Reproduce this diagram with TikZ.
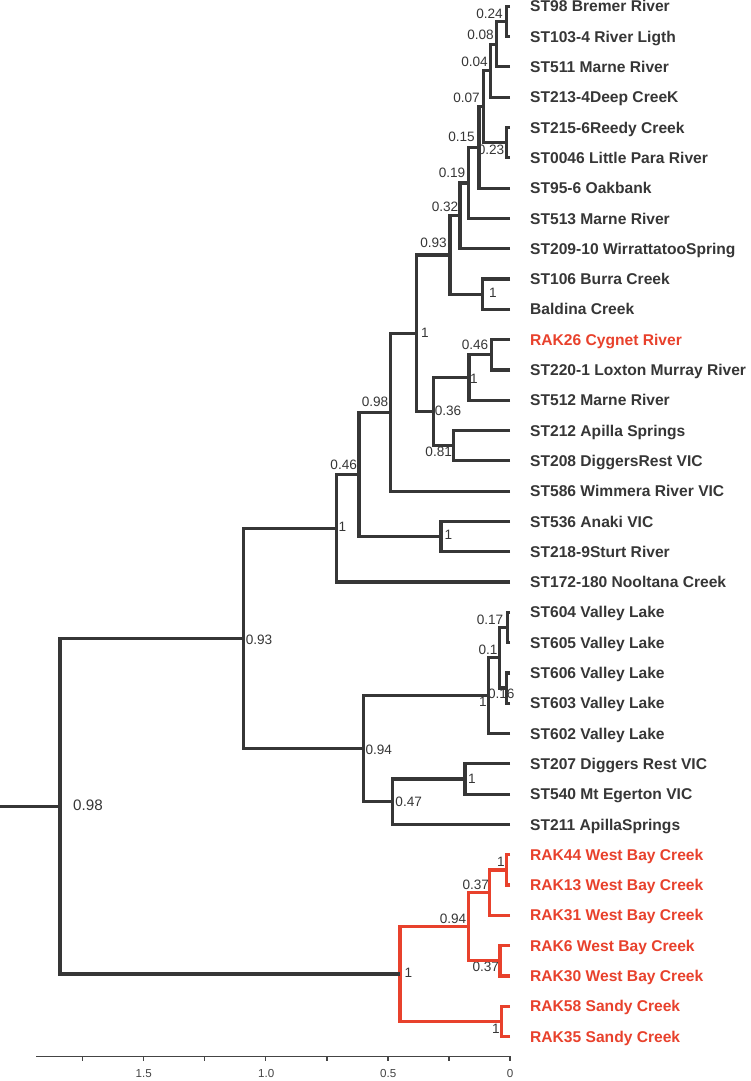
\documentclass[tikz,border=0pt]{standalone}
\usepackage{fontspec}
\setmainfont{Liberation Sans}
\definecolor{tg}{HTML}{363636}
\definecolor{tr}{HTML}{E8412C}
\definecolor{axc}{HTML}{444444}
\begin{document}
\begin{tikzpicture}[x=1pt,y=-1pt,
  br/.style={draw=tg, line width=3.2pt, line join=miter},
  rbr/.style={br, draw=tr},
  leaf/.style={anchor=west, inner sep=0pt, text height=11.2pt, text depth=0pt,
    font=\fontsize{15.6}{18}\selectfont\bfseries, text=tg},
  rleaf/.style={leaf, text=tr},
  sup/.style={inner sep=0pt, text height=9.8pt, text depth=0pt, font=\fontsize{13.6}{16}\selectfont, text=tg},
  axisline/.style={draw=axc, line width=1.3pt},
  axtick/.style={draw=axc, line width=1.6pt},
  axlab/.style={inner sep=0pt, text height=8.3pt, text depth=0pt, font=\fontsize{11.6}{14}\selectfont, text=axc}]
\useasboundingbox (0,0) rectangle (750,1081);

% ---------- support labels (drawn first, under the branches) ----------
\node[sup] (l1) at (489.5,14) {0.24};
\node[sup] (l2) at (480.5,35) {0.08};
\node[sup] (l3) at (474.5,62) {0.04};
\node[sup] (l5) at (466.5,98) {0.07};
\node[sup] (l6) at (461.5,137) {0.15};
\node[sup] (l4) at (491,150) {0.23};
\node[sup] (l7) at (452,173) {0.19};
\node[sup] (l8) at (445,207) {0.32};
\node[sup] (l9) at (493,293) {1};
\node[sup] (l10) at (433.5,243) {0.93};
\node[sup] (l15) at (425,333) {1};
\node[sup] (l11) at (475,345) {0.46};
\node[sup] (l12) at (474,379) {1};
\node[sup] (l14) at (448,410.7) {0.36};
\node[sup] (l13) at (438.7,451.7) {0.81};
\node[sup] (l16) at (375,401.7) {0.98};
\node[sup] (l17) at (448.5,535) {1};
\node[sup] (l18) at (343.7,465) {0.46};
\node[sup] (l19) at (342.5,526.7) {1};
\node[sup] (l20) at (259,639.3) {0.93};
\node[sup] (l21) at (490,620) {0.17};
\node[sup] (l23) at (488,649.3) {0.1};
\node[sup] (l22) at (501.3,693.3) {0.16};
\node[sup] (l24) at (483,701.7) {1};
\node[sup] (l25) at (472,778.3) {1};
\node[sup] (l26) at (408.7,801.7) {0.47};
\node[sup] (l27) at (378.8,749.3) {0.94};
\node[sup] (l28) at (501,861.7) {1};
\node[sup] (l29) at (475.8,885) {0.37};
\node[sup] (l31) at (453,918.3) {0.94};
\node[sup] (l30) at (485.8,966.7) {0.37};
\node[sup] (l33) at (408.3,972.7) {1};
\node[sup] (l32) at (496,1028.3) {1};
\node[sup, font=\fontsize{15.2}{18}\selectfont, text height=11pt] (lr) at (88,805) {0.98};

% ---------- leaf tips ----------
\coordinate (t0) at (510,6.3);
\coordinate (t1) at (510,36.6);
\coordinate (t2) at (510,66.9);
\coordinate (t3) at (510,97.2);
\coordinate (t4) at (510,127.5);
\coordinate (t5) at (510,157.8);
\coordinate (t6) at (510,188.1);
\coordinate (t7) at (510,218.4);
\coordinate (t8) at (510,248.7);
\coordinate (t9) at (510,279.0);
\coordinate (t10) at (510,309.3);
\coordinate (t11) at (510,339.6);
\coordinate (t12) at (510,369.9);
\coordinate (t13) at (510,400.2);
\coordinate (t14) at (510,430.5);
\coordinate (t15) at (510,460.8);
\coordinate (t16) at (510,491.1);
\coordinate (t17) at (510,521.4);
\coordinate (t18) at (510,551.7);
\coordinate (t19) at (510,582.0);
\coordinate (t20) at (510,612.3);
\coordinate (t21) at (510,642.6);
\coordinate (t22) at (510,672.9);
\coordinate (t23) at (510,703.2);
\coordinate (t24) at (510,733.5);
\coordinate (t25) at (510,763.8);
\coordinate (t26) at (510,794.1);
\coordinate (t27) at (510,824.4);
\coordinate (t28) at (510,854.7);
\coordinate (t29) at (510,885.0);
\coordinate (t30) at (510,915.3);
\coordinate (t31) at (510,945.6);
\coordinate (t32) at (510,975.9);
\coordinate (t33) at (510,1006.2);
\coordinate (t34) at (510,1036.5);

% ---------- internal nodes ----------
\coordinate (n1) at (506.7,21.45);
\coordinate (n2) at (496.7,44.2);
\coordinate (n3) at (490.7,70.7);
\coordinate (n4) at (506.7,142.65);
\coordinate (n5) at (483.3,106.7);
\coordinate (n6) at (479,147.4);
\coordinate (n7) at (468.3,182.9);
\coordinate (n8) at (460,215.8);
\coordinate (n9) at (482.7,294.2);
\coordinate (n10) at (450,255);
\coordinate (n11) at (491.7,354.8);
\coordinate (n12) at (469,377.5);
\coordinate (n13) at (453.3,445.7);
\coordinate (n14) at (433.3,411.6);
\coordinate (n15) at (416.7,333.3);
\coordinate (n16) at (390.7,412.2);
\coordinate (n17) at (441,536.6);
\coordinate (n18) at (359,474.4);
\coordinate (n19) at (336.7,528.2);
\coordinate (n21) at (507.7,627.5);
\coordinate (n22) at (506.7,688);
\coordinate (n23) at (499.3,657.8);
\coordinate (n24) at (488.3,695.7);
\coordinate (n25) at (465,779);
\coordinate (n26) at (392.7,801.7);
\coordinate (n27) at (363.3,748.7);
\coordinate (n20) at (243.3,638.5);
\coordinate (n28) at (506.7,869.9);
\coordinate (n29) at (489.3,892.6);
\coordinate (n30) at (500,960.8);
\coordinate (n31) at (468.3,926.7);
\coordinate (n32) at (501.7,1021.4);
\coordinate (n33) at (400,974);
\coordinate (root) at (60,806.3);
\coordinate (stub) at (0,806.3);

% ---------- branches ----------
\draw[br] (t0) -| (n1);  \draw[br] (t1) -| (n1);
\draw[br] (n1) -| (n2);  \draw[br] (t2) -| (n2);
\draw[br] (n2) -| (n3);  \draw[br] (t3) -| (n3);
\draw[br] (t4) -| (n4);  \draw[br] (t5) -| (n4);
\draw[br] (n3) -| (n5);  \draw[br] (n4) -| (n5);
\draw[br] (n5) -| (n6);  \draw[br] (t6) -| (n6);
\draw[br] (n6) -| (n7);  \draw[br] (t7) -| (n7);
\draw[br] (n7) -| (n8);  \draw[br] (t8) -| (n8);
\draw[br] (t9) -| (n9);  \draw[br] (t10) -| (n9);
\draw[br] (n8) -| (n10); \draw[br] (n9) -| (n10);
\draw[br] (t11) -| (n11); \draw[br] (t12) -| (n11);
\draw[br] (n11) -| (n12); \draw[br] (t13) -| (n12);
\draw[br] (t14) -| (n13); \draw[br] (t15) -| (n13);
\draw[br] (n12) -| (n14); \draw[br] (n13) -| (n14);
\draw[br] (n10) -| (n15); \draw[br] (n14) -| (n15);
\draw[br] (n15) -| (n16); \draw[br] (t16) -| (n16);
\draw[br] (t17) -| (n17); \draw[br] (t18) -| (n17);
\draw[br] (n16) -| (n18); \draw[br] (n17) -| (n18);
\draw[br] (n18) -| (n19); \draw[br] (t19) -| (n19);
\draw[br] (t20) -| (n21); \draw[br] (t21) -| (n21);
\draw[br] (t22) -| (n22); \draw[br] (t23) -| (n22);
\draw[br] (n21) -| (n23); \draw[br] (n22) -| (n23);
\draw[br] (n23) -| (n24); \draw[br] (t24) -| (n24);
\draw[br] (t25) -| (n25); \draw[br] (t26) -| (n25);
\draw[br] (n25) -| (n26); \draw[br] (t27) -| (n26);
\draw[br] (n24) -| (n27); \draw[br] (n26) -| (n27);
\draw[br] (n19) -| (n20); \draw[br] (n27) -| (n20);
\draw[rbr] (t28) -| (n28); \draw[rbr] (t29) -| (n28);
\draw[rbr] (n28) -| (n29); \draw[rbr] (t30) -| (n29);
\draw[rbr] (t31) -| (n30); \draw[rbr] (t32) -| (n30);
\draw[rbr] (n29) -| (n31); \draw[rbr] (n30) -| (n31);
\draw[rbr] (t33) -| (n32); \draw[rbr] (t34) -| (n32);
\draw[rbr] (n31) -| (n33); \draw[rbr] (n32) -| (n33);
\draw[br] (n20) -| (root); \draw[br] (n33) -| (root);
\draw[br] (root) -- (stub);

% ---------- leaf labels ----------
\node[leaf] (s0) at (530,6.3) {ST98 Bremer River};
\node[leaf] (s1) at (530,36.6) {ST103-4 River Ligth};
\node[leaf] (s2) at (530,66.9) {ST511 Marne River};
\node[leaf] (s3) at (530,97.2) {ST213-4Deep CreeK};
\node[leaf] (s4) at (530,127.5) {ST215-6Reedy Creek};
\node[leaf] (s5) at (530,157.8) {ST0046 Little Para River};
\node[leaf] (s6) at (530,188.1) {ST95-6 Oakbank};
\node[leaf] (s7) at (530,218.4) {ST513 Marne River};
\node[leaf] (s8) at (530,248.7) {ST209-10 WirrattatooSpring};
\node[leaf] (s9) at (530,279.0) {ST106 Burra Creek};
\node[leaf] (s10) at (530,309.3) {Baldina Creek};
\node[rleaf] (s11) at (530,339.6) {RAK26 Cygnet River};
\node[leaf] (s12) at (530,369.9) {ST220-1 Loxton Murray River};
\node[leaf] (s13) at (530,400.2) {ST512 Marne River};
\node[leaf] (s14) at (530,430.5) {ST212 Apilla Springs};
\node[leaf] (s15) at (530,460.8) {ST208 DiggersRest VIC};
\node[leaf] (s16) at (530,491.1) {ST586 Wimmera River VIC};
\node[leaf] (s17) at (530,521.4) {ST536 Anaki VIC};
\node[leaf] (s18) at (530,551.7) {ST218-9Sturt River};
\node[leaf] (s19) at (530,582.0) {ST172-180 Nooltana Creek};
\node[leaf] (s20) at (530,612.3) {ST604 Valley Lake};
\node[leaf] (s21) at (530,642.6) {ST605 Valley Lake};
\node[leaf] (s22) at (530,672.9) {ST606 Valley Lake};
\node[leaf] (s23) at (530,703.2) {ST603 Valley Lake};
\node[leaf] (s24) at (530,733.5) {ST602 Valley Lake};
\node[leaf] (s25) at (530,763.8) {ST207 Diggers Rest VIC};
\node[leaf] (s26) at (530,794.1) {ST540 Mt Egerton VIC};
\node[leaf] (s27) at (530,824.4) {ST211 ApillaSprings};
\node[rleaf] (s28) at (530,854.7) {RAK44 West Bay Creek};
\node[rleaf] (s29) at (530,885.0) {RAK13 West Bay Creek};
\node[rleaf] (s30) at (530,915.3) {RAK31 West Bay Creek};
\node[rleaf] (s31) at (530,945.6) {RAK6 West Bay Creek};
\node[rleaf] (s32) at (530,975.9) {RAK30 West Bay Creek};
\node[rleaf] (s33) at (530,1006.2) {RAK58 Sandy Creek};
\node[rleaf] (s34) at (530,1036.5) {RAK35 Sandy Creek};

% ---------- axis ----------
\coordinate (ax0) at (36,1056.7);
\coordinate (ax1) at (511,1056.7);
\draw[axisline] (ax0) -- (ax1);
\foreach \k in {0,...,7} \draw[axtick] (510-61.1*\k,1056.7) -- ++(0,4);
\node[axlab] (a0) at (510,1073) {0};
\node[axlab] (a1) at (388.3,1073) {0.5};
\node[axlab] (a2) at (266.3,1073) {1.0};
\node[axlab] (a3) at (143.8,1073) {1.5};
\end{tikzpicture}
\end{document}
